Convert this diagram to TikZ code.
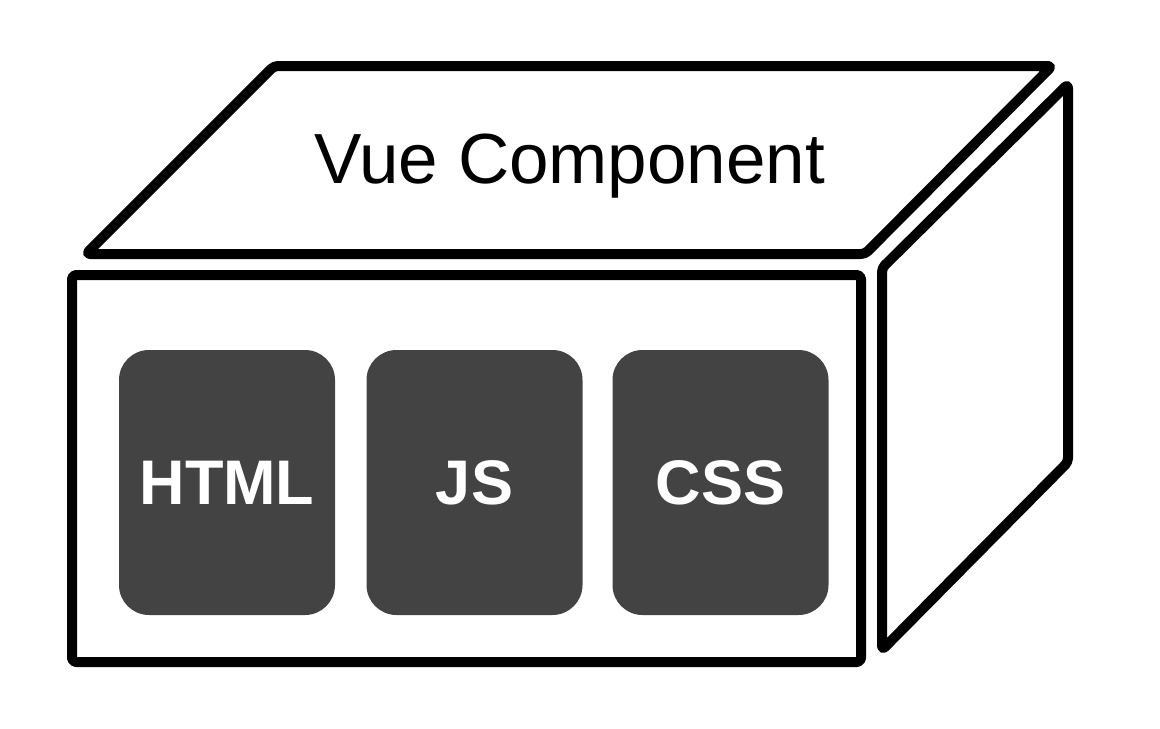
\documentclass[tikz,border=0pt]{standalone}
\usepackage{fontspec}
\setmainfont{Liberation Sans}
\usepackage{tikz}
\definecolor{partgray}{HTML}{434343}

\begin{document}
\begin{tikzpicture}[x=0.5pt,y=-0.5pt,
    face/.style={draw=black,line width=5pt,line join=round,rounded corners=2pt},
    part/.style={fill=partgray,text=white,rounded corners=15pt,minimum width=108pt,minimum height=132.5pt,font=\fontsize{31.5}{36}\selectfont\bfseries}]
      \useasboundingbox (0,0) rectangle (1160,728);
      \draw[face] (86,254) -- (274,66) -- (1052,66) -- (865,254) -- cycle;
      \draw[face] (72,275) rectangle (861,662);
      \draw[face] (882,268) -- (1068,84) -- (1068,462) -- (882,650) -- cycle;
      \node[anchor=base,font=\fontsize{35.5}{40}\selectfont] (title) at (570,183) {Vue Component};
      \node[part] (html) at (227,482.5) {HTML};
      \node[part] (js)   at (474.5,482.5) {JS};
      \node[part] (css)  at (720.5,482.5) {CSS};
    \end{tikzpicture}
\end{document}
